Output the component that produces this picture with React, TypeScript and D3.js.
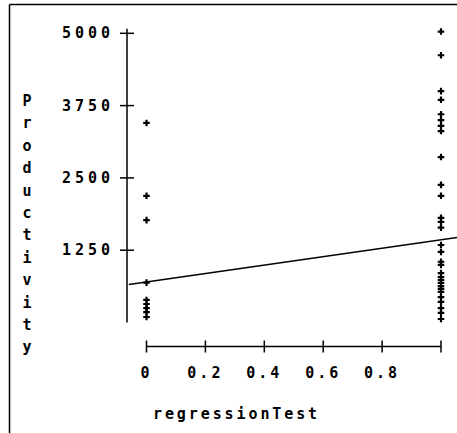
import React from "react";
import * as d3 from "d3";

const yTicks = [1250, 2500, 3750, 5000];
const xTicks = [0, 0.2, 0.4, 0.6, 0.8, 1];
const xTickLabels = ["0", "0.2", "0.4", "0.6", "0.8", ""];
const yLabel = "Productivity";
const xLabel = "regressionTest";

// Productivity values for regressionTest = 0
const group0 = [3450, 2190, 1770, 690, 390, 320, 250, 180, 95];
// Productivity values for regressionTest = 1
const group1 = [
  5030, 4620, 4000, 3850, 3600, 3500, 3400, 3310, 2860, 2380, 2190, 1810, 1740,
  1640, 1340, 1220, 1050, 995, 855, 785, 735, 685, 630, 580, 530, 440, 355, 250,
  165, 60,
];
// Regression line: intercept and slope, drawn over x range
const regIntercept = 700;
const regSlope = 730;
const regRange = [-0.06, 1.055];

export default function App() {
  const W = 457;
  const H = 433;
  const x = d3.scaleLinear().domain([0, 1]).range([146.5, 441]);
  const y = d3.scaleLinear().domain([0, 5000]).range([322.5, 33.3]);
  const axisX = 127;
  const axisY = 346.5;
  const font = "'DejaVu Sans Mono', monospace";
  const cross = d3.symbol().type(d3.symbolCross).size(24)();
  const line = d3
    .line<number>()
    .x((d) => x(d))
    .y((d) => y(regIntercept + regSlope * d));

  return (
    <svg
      width={W}
      height={H}
      style={{ position: "absolute", left: 0, top: 0, background: "#fff" }}
      fontFamily={font}
      fontWeight="bold"
    >
      {/* frame */}
      <line x1={9.5} y1={4.5} x2={457} y2={4.5} stroke="#000" strokeWidth={1.5} />
      <line x1={9.5} y1={4.5} x2={9.5} y2={433} stroke="#000" strokeWidth={1.5} />

      {/* y axis */}
      <line x1={axisX} y1={y(5080)} x2={axisX} y2={y(0)} stroke="#000" strokeWidth={1.5} />
      {yTicks.map((t) => (
        <g key={t}>
          <line x1={axisX - 7} x2={axisX + 7} y1={y(t)} y2={y(t)} stroke="#000" strokeWidth={1.5} />
          <text
            x={114}
            y={y(t) + 5}
            textAnchor="end"
            fontSize={15}
            letterSpacing={4}
            fill="#000"
          >
            {t}
          </text>
        </g>
      ))}

      {/* x axis */}
      <line x1={x(0)} x2={x(1)} y1={axisY} y2={axisY} stroke="#000" strokeWidth={1.5} />
      {xTicks.map((t, i) => (
        <g key={t}>
          <line x1={x(t)} x2={x(t)} y1={axisY - 6} y2={axisY + 6} stroke="#000" strokeWidth={1.5} />
          <text
            x={x(t)}
            y={378}
            textAnchor="middle"
            fontSize={15}
            letterSpacing={3}
            fill="#000"
          >
            {xTickLabels[i]}
          </text>
        </g>
      ))}

      {/* axis titles */}
      <text x={153} y={419} fontSize={15} letterSpacing={2.9} fill="#000">
        {xLabel}
      </text>
      {yLabel.split("").map((c, i) => (
        <text
          key={i}
          x={27}
          y={106 + i * 22.4}
          textAnchor="middle"
          fontSize={15}
          fill="#000"
        >
          {c}
        </text>
      ))}

      {/* regression line */}
      <path d={line(regRange) || ""} fill="none" stroke="#000" strokeWidth={1.5} />

      {/* points */}
      {group0.map((v, i) => (
        <path key={"a" + i} d={cross} transform={`translate(${x(0)},${y(v)})`} fill="#000" />
      ))}
      {group1.map((v, i) => (
        <path key={"b" + i} d={cross} transform={`translate(${x(1)},${y(v)})`} fill="#000" />
      ))}
    </svg>
  );
}
